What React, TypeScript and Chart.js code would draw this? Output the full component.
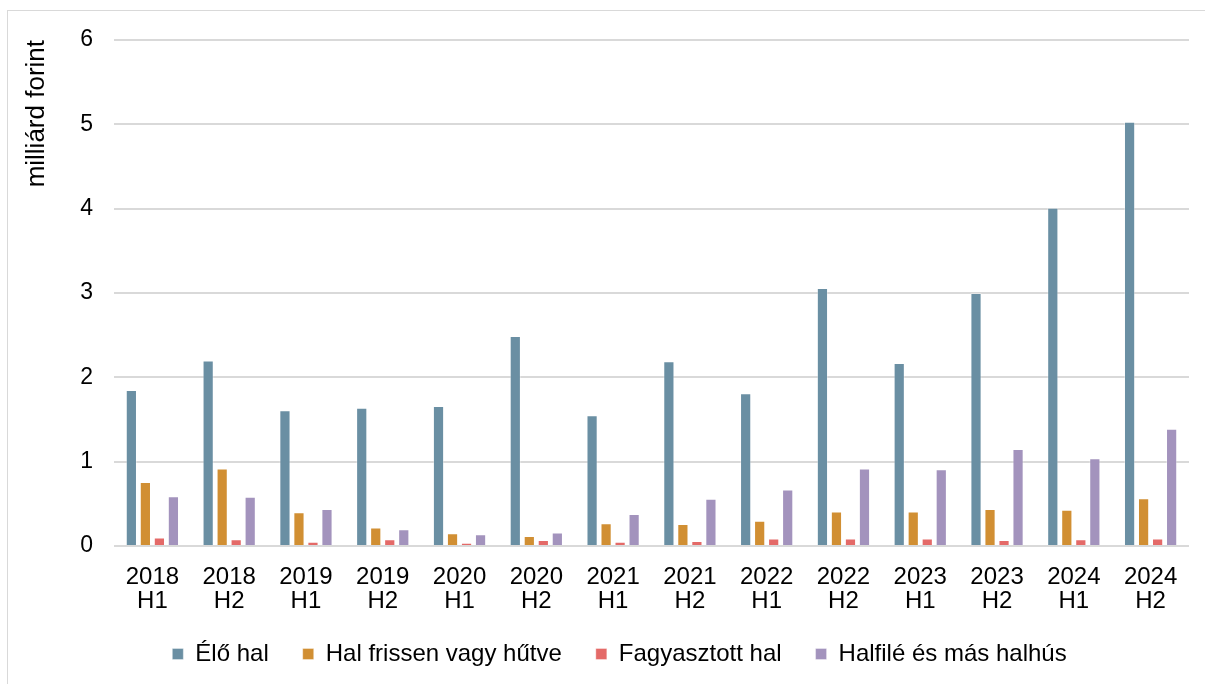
import React, { useEffect, useRef } from "react";
import { Chart, registerables } from "chart.js";

Chart.register(...registerables);

const categories: string[][] = [
  ["2018", "H1"], ["2018", "H2"], ["2019", "H1"], ["2019", "H2"],
  ["2020", "H1"], ["2020", "H2"], ["2021", "H1"], ["2021", "H2"],
  ["2022", "H1"], ["2022", "H2"], ["2023", "H1"], ["2023", "H2"],
  ["2024", "H1"], ["2024", "H2"],
];

const eloHal = [1.85, 2.2, 1.61, 1.64, 1.66, 2.49, 1.55, 2.19, 1.81, 3.06, 2.17, 3.0, 4.01, 5.03];
const halFrissen = [0.76, 0.92, 0.4, 0.22, 0.15, 0.12, 0.27, 0.26, 0.3, 0.41, 0.41, 0.44, 0.43, 0.565];
const fagyasztott = [0.1, 0.08, 0.05, 0.08, 0.04, 0.07, 0.05, 0.06, 0.09, 0.09, 0.09, 0.07, 0.08, 0.09];
const halfile = [0.59, 0.585, 0.44, 0.2, 0.14, 0.16, 0.38, 0.56, 0.67, 0.92, 0.91, 1.15, 1.04, 1.39];

const seriesNames = ["Élő hal", "Hal frissen vagy hűtve", "Fagyasztott hal", "Halfilé és más halhús"];
const seriesColors = ["#6A8FA3", "#D18F33", "#E46A68", "#A393BD"];
const yTicks = [0, 1, 2, 3, 4, 5, 6];
const yTitle = "milliárd forint";

const FONT = "'Liberation Sans', Arial, Helvetica, sans-serif";

export default function App() {
  const ref = useRef<HTMLCanvasElement | null>(null);

  useEffect(() => {
    document.body.style.margin = "0";
    document.body.style.overflow = "hidden";
    const canvas = ref.current;
    if (!canvas) return;
    Chart.defaults.font.family = FONT;
    const values = [eloHal, halFrissen, fagyasztott, halfile];
    const chart = new Chart(canvas, {
      type: "bar",
      data: {
        labels: categories,
        datasets: values.map((v, i) => ({
          label: seriesNames[i],
          data: v,
          backgroundColor: seriesColors[i],
          borderColor: "rgba(255,255,255,0.35)",
          borderWidth: 1,
          categoryPercentage: 0.73,
          barPercentage: 0.8,
        })),
      },
      options: {
        animation: false,
        responsive: false,
        maintainAspectRatio: false,
        layout: { padding: { left: 50, right: 16, top: 40, bottom: 8 } },
        plugins: {
          legend: {
            position: "bottom",
            labels: {
              boxWidth: 11,
              boxHeight: 11,
              padding: 34,
              color: "#000",
              font: { size: 24, family: FONT },
            },
          },
          tooltip: { enabled: false },
        },
        scales: {
          x: {
            grid: { display: false },
            border: { display: false },
            ticks: {
              color: "#000",
              font: { size: 24, family: FONT, lineHeight: 1.0 },
              padding: 11,
              maxRotation: 0,
              autoSkip: false,
            },
            afterFit: (scale: any) => {
              scale.height = 62;
            },
          },
          y: {
            min: 0,
            max: 6,
            afterBuildTicks: (scale: any) => {
              scale.ticks = yTicks.map((v) => ({ value: v }));
            },
            grid: { color: "#D9D9D9", lineWidth: 2, drawTicks: false },
            border: { display: false },
            ticks: {
              color: "#000",
              font: { size: 23, family: FONT },
              padding: 21,
            },
            title: {
              display: true,
              text: yTitle,
              align: "end",
              color: "#000",
              font: { size: 26, family: FONT },
              padding: { top: -29, bottom: 0 },
            },
            afterFit: (scale: any) => {
              scale.width = 64;
            },
          },
        },
      },
    });
    return () => chart.destroy();
  }, []);

  return (
    <div style={{ position: "relative", width: 1205, height: 684, background: "#fff" }}>
      <canvas ref={ref} width={1205} height={684} style={{ display: "block", width: 1205, height: 684 }} />
      <div
        style={{
          position: "absolute",
          left: 7,
          top: 10,
          right: 0,
          bottom: 0,
          borderTop: "1.5px solid #D9D9D9",
          borderLeft: "1.5px solid #D9D9D9",
          pointerEvents: "none",
        }}
      />
    </div>
  );
}
